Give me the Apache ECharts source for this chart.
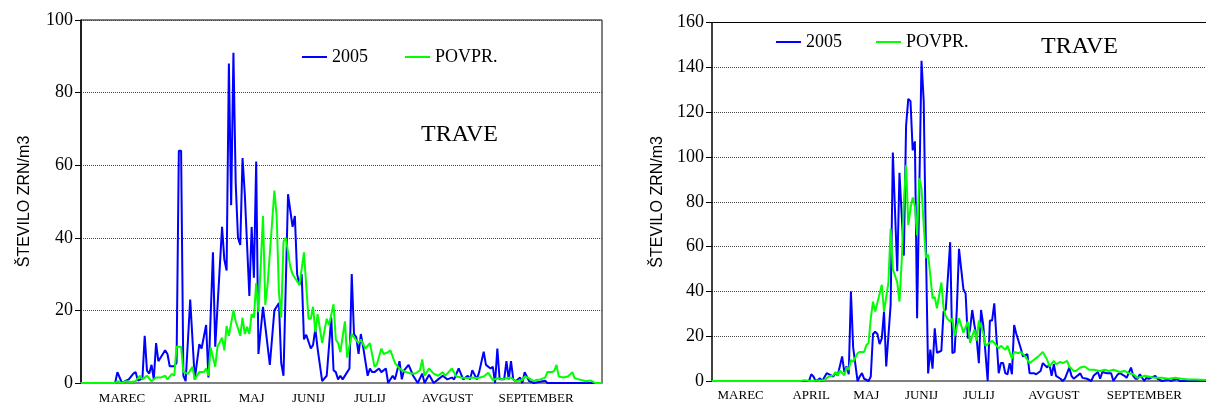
<!DOCTYPE html>
<html>
<head>
<meta charset="utf-8">
<script src="https://cdn.jsdelivr.net/npm/echarts@6/dist/echarts.min.js"></script>
<style>
html,body{margin:0;padding:0;background:#fff;}
#chart{width:1206px;height:405px;}
</style>
</head>
<body>
<div id="chart"></div>
<script>
// ---- tick labels (months) and their day positions on each x axis
const monthLabels = ['MAREC','APRIL','MAJ','JUNIJ','JULIJ','AVGUST','SEPTEMBER'];
const monthPosLeft = [18,49,75,100,127,161,200];
const monthPosRight = [13,45,70,95,121,155,196];
const dayCountLeft = 230;
const dayCountRight = 225;

const seriesNames = ['2005','POVPR.'];
const panelTitle = 'TRAVE';
const yAxisTitle = 'ŠTEVILO ZRN/m3';

// ---- left panel: [day, pollen count]
const left2005 = [[0,0],[15,0],[16,3],[18,0],[20,0.7],[21,1],[23,2.6],[24,3],[25,0.7],[27,1.2],[28,13],[29,3.4],[30,2.6],[31,5],[32,1],[33,11],[34,6],[37,9],[38,8],[39,4.6],[41,4.6],[42,5.5],[43,64],[44,64],[45,2],[46,0.5],[48,23],[50,1],[52,10.7],[53,9.5],[55,16],[56,1.5],[58,36],[59,10],[62,43],[63,34],[64,31],[65,88],[66,49],[67,91],[68,55],[69,40],[70,38],[71,62],[72,52],[73,38],[74,24],[75,43],[76,29],[77,61],[78,8],[80,21],[83,5],[85,20],[87,22],[88,5.5],[89,2],[91,52],[93,43],[94,46],[95,30],[96,27],[97,30],[98,12],[99,13.3],[101,9.5],[102,10.5],[103,15],[104,9.5],[106,0.5],[108,2],[109,10],[110,18],[111,3.5],[112,3],[113,1],[114,2],[115,1],[117,3],[118,4],[119,30],[120,13.5],[121,12.6],[122,8],[123,13.5],[124,10],[126,2],[127,4],[128,3],[129,3],[131,4],[132,3],[134,4],[135,0],[137,2],[138,1],[140,6],[141,1],[142,3.5],[144,5],[146,2],[148,0],[150,2.6],[151,0],[153,2.3],[155,0],[157,1],[159,2],[161,1],[163,1.5],[164,1],[166,4],[168,1],[170,2],[171,1],[172,3.5],[174,1],[175,3],[177,8.6],[178,5],[180,4],[181,4.5],[182,0],[183,9.5],[184,1],[186,1],[187,6],[188,1],[189,6],[190,1],[191,0.5],[193,1.5],[194,0],[195,3],[197,0.5],[199,0],[204,0.6],[205,0],[229,0]];
const leftAvg = [[0,0],[15,0],[16,0.5],[18,0],[20,0.5],[22,0.3],[24,0.5],[26,2],[27,1],[29,2],[31,0.5],[33,1.5],[35,1.5],[37,2],[38,1],[40,2.5],[41,2],[42,10],[44,10],[45,3],[47,2.5],[49,4.5],[50,1],[52,3],[54,3],[55,4],[56,2],[57,9.8],[59,4.5],[60,10],[62,12.5],[63,9],[64,15.7],[65,13],[67,20],[68,17],[70,13],[71,18],[72,13.5],[73,15.5],[74,13.5],[75,19],[76,18],[77,27.5],[78,19.5],[80,46],[81,21.5],[82,27],[85,53],[86,46],[87,25],[88,18],[89,39],[90,40],[92,32],[93,30],[94,29],[96,27],[98,36],[100,17.7],[101,17.7],[102,21],[103,14],[104,19],[106,11],[108,17.7],[109,16],[111,21.7],[112,12],[113,11],[114,8.5],[116,17],[117,7],[119,13.5],[120,12.6],[122,11],[123,12],[125,9.5],[127,11],[129,4.5],[130,5],[132,9.5],[133,8],[135,8.5],[136,9],[138,5.5],[140,4],[141,3.5],[143,3],[145,2.6],[147,2.6],[149,3.5],[150,6.5],[151,2],[153,4],[155,2.6],[157,2],[159,3],[160,2],[161,2.6],[163,4],[165,1.8],[167,1.5],[170,1.3],[172,1.5],[174,1.3],[177,1.8],[179,2.8],[181,0.8],[183,1.3],[185,1],[187,1.3],[189,1.5],[191,0.5],[194,0.8],[195,1.8],[197,1.3],[199,0.5],[200,0.8],[202,1],[204,1.5],[205,3],[207,3],[208,3.3],[209,5],[210,1.8],[212,1.5],[214,1.8],[216,3],[217,1.3],[220,0.8],[222,0.5],[224,0.7],[226,0],[229,0]];

// ---- right panel: [day, pollen count]
const right2005 = [[0,0],[44,0],[45,3],[46,2],[47,0],[48,0.5],[49,1.2],[50,0],[52,3.5],[54,2.5],[55,2],[56,3.5],[57,2.5],[59,11],[60,4],[61,6.5],[62,3],[63,40],[64,15],[66,0],[67,2],[68,3.5],[69,1],[71,0],[72,2],[73,21],[74,22],[75,21],[76,16.5],[77,19],[78,31],[79,6.5],[81,34],[82,102],[84,49],[85,93],[87,56],[88,114],[89,126],[90,125],[91,103],[92,107],[93,28],[95,143],[96,125],[97,59],[98,3.4],[99,14],[100,5.5],[101,23.5],[102,12.6],[104,13.5],[105,31],[106,32],[108,62],[109,12.4],[110,13],[111,31.7],[112,59],[114,41],[115,39],[116,19],[117,23],[118,31.7],[119,25],[120,19],[121,8],[122,31.7],[123,25],[125,0],[126,27],[127,27],[128,34.7],[130,3.5],[131,8],[132,8],[133,3.5],[134,3],[135,8],[136,3],[137,25],[138,21],[140,14.6],[141,11],[143,12],[144,3.5],[146,3.5],[147,3],[149,4.5],[150,8],[152,6],[153,7.5],[154,2.3],[155,7.5],[156,2.3],[158,1],[159,0],[160,1],[162,6],[163,2.3],[164,1],[167,3.4],[168,1.4],[170,1],[172,0],[173,2.3],[175,4],[176,1],[177,4],[179,3.5],[181,3.5],[182,0],[184,3],[185,3.5],[187,2.3],[188,1.4],[190,6],[191,2.3],[192,1],[193,1],[194,3],[196,0],[197,1.4],[198,1],[201,2.3],[202,1],[204,0],[207,0.6],[208,0],[211,1],[212,0],[224,0]];
const rightAvg = [[0,0],[40,0],[42,0.3],[44,0],[50,0.3],[51,0.5],[53,2],[55,2.5],[56,4],[57,2.5],[58,4.6],[60,2.5],[61,6],[62,5],[63,9.4],[64,8.6],[66,12.4],[67,13],[69,13],[70,16],[71,17],[72,28],[73,35.4],[74,31],[75,35],[77,43],[78,31],[80,44],[81,68],[82,50],[84,44],[85,35.4],[86,53],[87,80],[88,96.4],[89,69.6],[90,77],[91,82],[92,78],[93,65],[94,90.5],[95,86],[96,69.6],[97,55],[98,56.5],[99,47],[100,37],[101,37.5],[102,32.5],[104,44],[105,32.5],[106,29],[107,27.5],[108,26.5],[109,28],[110,20],[112,28],[114,21.6],[116,26.5],[117,17],[119,23],[120,18],[121,27],[123,21.6],[124,15.7],[127,18],[128,17],[130,14.6],[131,15.7],[133,14],[134,15.7],[136,10],[137,13],[139,12.4],[140,13],[142,11],[143,9.5],[144,8],[146,9.5],[148,11],[150,13],[152,9.5],[153,6.5],[155,9],[156,7.5],[158,8.5],[159,8],[161,9],[162,6.5],[164,4.5],[165,4.5],[167,6],[169,6.5],[171,5],[173,5],[176,4.5],[178,5],[180,4.5],[182,5],[185,4],[187,4.5],[189,3.5],[191,3],[193,1.4],[196,2.3],[198,2],[201,1.4],[204,1.4],[207,1],[210,1.4],[213,1],[216,0.7],[219,0.7],[224,0.5]];

const BLUE = '#0000FF', GREEN = '#00FF00';
const SERIF = 'Liberation Serif', SANS = 'Liberation Sans';

function dayCats(n){ const a=[]; for(let i=0;i<n;i++) a.push(String(i)); return a; }

function xAxisFor(gridIndex, count, positions, margin){
  return {
    type:'category', gridIndex, data: dayCats(count), boundaryGap:false,
    axisLine:{show:true, lineStyle:{color:'#7f7f7f', width:2}},
    axisTick:{show:false},
    splitLine:{show:false},
    axisLabel:{
      show:true, margin, color:'#000', fontFamily:SERIF, fontSize:13,
      interval:(idx)=>positions.indexOf(idx)>=0,
      formatter:(v,idx)=>{ const k=positions.indexOf(Number(idx)); return k>=0?monthLabels[k]:''; }
    }
  };
}
function topFrameAxis(gridIndex, count){
  return {
    type:'category', gridIndex, position:'top', data: dayCats(count), boundaryGap:false,
    axisLine:{show:true, onZero:false, lineStyle:{color:'#000', width:1}},
    axisTick:{show:false}, axisLabel:{show:false}, splitLine:{show:false}
  };
}
function yAxisFor(gridIndex, max, nameGap){
  return {
    type:'value', gridIndex, min:0, max, interval:20,
    name: yAxisTitle, nameLocation:'middle', nameGap, nameRotate:90,
    nameTextStyle:{fontFamily:SANS, fontSize:16, color:'#000'},
    axisLine:{show:true, lineStyle:{color:'#000', width:1.5}},
    axisTick:{show:true, length:6, lineStyle:{color:'#000', width:1}},
    axisLabel:{color:'#000', fontFamily:SERIF, fontSize:18, margin:8},
    splitLine:{show:true, lineStyle:{color:'#444', type:'dotted', width:1}}
  };
}
function legendFor(left, top, gap){
  return {
    data: seriesNames, left, top, itemGap: gap, itemWidth:25, itemHeight:2,
    icon:'rect', selectedMode:false,
    textStyle:{fontFamily:SERIF, fontSize:18, color:'#000'}
  };
}
function lineSeries(name, data, color, xi, yi){
  return {
    name, type:'line', data, xAxisIndex:xi, yAxisIndex:yi,
    showSymbol:false, symbol:'none', smooth:false, animation:false,
    lineStyle:{color, width:2}, itemStyle:{color}
  };
}

const chart = echarts.init(document.getElementById('chart'), null, {renderer:'canvas'});
chart.setOption({
  backgroundColor:'#fff',
  animation:false,
  title:[
    {text:panelTitle, left:416, top:118, textStyle:{fontFamily:SERIF, fontSize:24, fontWeight:'normal', color:'#000'}},
    {text:panelTitle, left:1036, top:30, textStyle:{fontFamily:SERIF, fontSize:24, fontWeight:'normal', color:'#000'}}
  ],
  legend:[ legendFor(297, 43, 37), legendFor(771, 28, 34) ],
  grid:[
    {left:81, top:20, width:521, height:366, show:true, borderColor:'#000', borderWidth:1, backgroundColor:'transparent', containLabel:false},
    {left:712, top:22.7, width:503.6, height:358.3, show:false, containLabel:false}
  ],
  xAxis:[ xAxisFor(0, dayCountLeft, monthPosLeft, 9), xAxisFor(1, dayCountRight, monthPosRight, 8), topFrameAxis(1, dayCountRight) ],
  yAxis:[ yAxisFor(0, 100, 48), yAxisFor(1, 160, 46) ],
  series:[
    lineSeries(seriesNames[0], left2005, BLUE, 0, 0),
    lineSeries(seriesNames[1], leftAvg, GREEN, 0, 0),
    lineSeries(seriesNames[0], right2005, BLUE, 1, 1),
    lineSeries(seriesNames[1], rightAvg, GREEN, 1, 1)
  ]
});
</script>
</body>
</html>
